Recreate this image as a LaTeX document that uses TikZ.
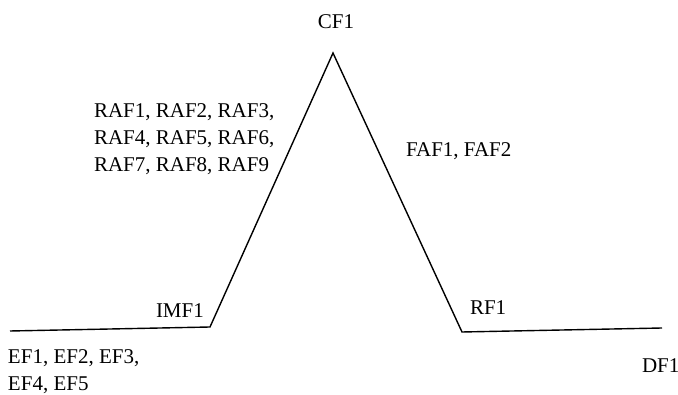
\documentclass[tikz,border=0pt]{standalone}
\usepackage{fontspec}
\setmainfont{Liberation Serif}
\begin{document}
\begin{tikzpicture}[x=1pt,y=1pt,
  lbl/.style={inner sep=0pt, outer sep=0pt, font=\fontsize{21}{27}\selectfont, text=black},
  prof/.style={line width=1.4pt, black, line join=miter}]
\useasboundingbox (0,0) rectangle (678,394);
\coordinate (a) at (10,63);
\coordinate (b) at (210,67);
\coordinate (c) at (333,341);
\coordinate (d) at (462,62);
\coordinate (e) at (662,66);
\draw[prof] (a) -- (b) -- (c) -- (d) -- (e);
\node[lbl, anchor=base] (cf) at (336,365) {CF1};
\node[lbl, anchor=north west, align=left] (raf) at (94,290) {RAF1, RAF2, RAF3,\\RAF4, RAF5, RAF6,\\RAF7, RAF8, RAF9};
\node[lbl, anchor=base west] (faf) at (406,237) {FAF1, FAF2};
\node[lbl, anchor=base west] (imf) at (156,76) {IMF1};
\node[lbl, anchor=north west, align=left] (ef) at (8,44.5) {EF1, EF2, EF3,\\EF4, EF5};
\node[lbl, anchor=base west] (rf) at (470,79) {RF1};
\node[lbl, anchor=base west] (df) at (642,22) {DF1};
\end{tikzpicture}
\end{document}
